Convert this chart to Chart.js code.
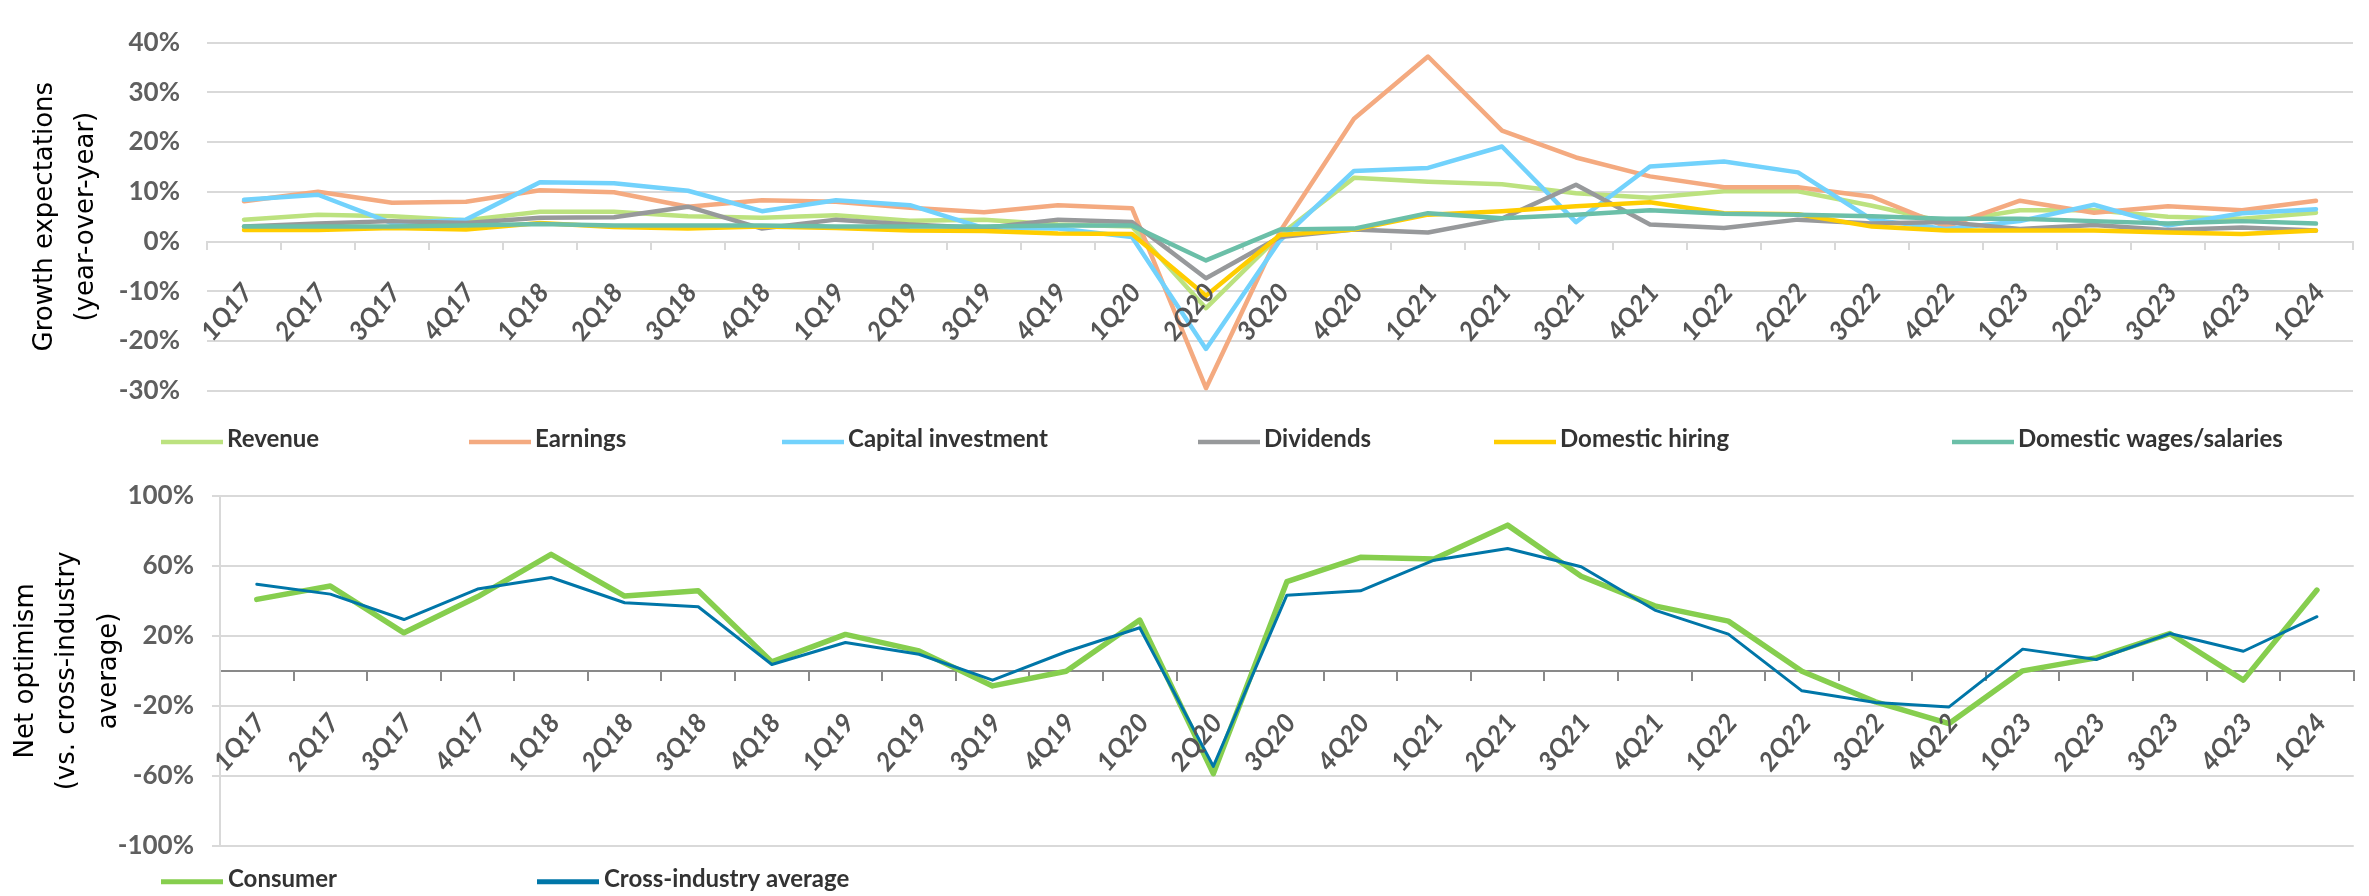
<!DOCTYPE html>
<html><head><meta charset="utf-8">
<script src="https://cdn.jsdelivr.net/npm/chart.js@4.4.1/dist/chart.umd.min.js"></script>
<style>
html,body{margin:0;padding:0;background:#fff;}
body{width:2369px;height:896px;position:relative;overflow:hidden;}
#c1{position:absolute;left:0;top:0;width:2369px;height:460px;}
#c2{position:absolute;left:0;top:460px;width:2369px;height:436px;}
</style></head><body>
<canvas id="c1" width="2369" height="460"></canvas>
<canvas id="c2" width="2369" height="436"></canvas>
<script>
// ---- Data ----
const categories = ['1Q17','2Q17','3Q17','4Q17','1Q18','2Q18','3Q18','4Q18','1Q19','2Q19','3Q19','4Q19','1Q20','2Q20','3Q20','4Q20','1Q21','2Q21','3Q21','4Q21','1Q22','2Q22','3Q22','4Q22','1Q23','2Q23','3Q23','4Q23','1Q24'];

const revenue   = [4.4, 5.4, 5.1, 4.3, 6.0, 6.0, 5.1, 4.8, 5.3, 4.2, 4.4, 3.4, 3.0, -13.4, 1.3, 12.8, 12.0, 11.5, 9.7, 8.8, 10.1, 10.1, 7.2, 3.9, 6.3, 6.3, 5.0, 4.6, 5.8];
const earnings  = [8.1, 10.0, 7.8, 8.0, 10.3, 9.9, 7.0, 8.3, 8.0, 6.8, 5.9, 7.3, 6.7, -29.5, 2.0, 24.7, 37.2, 22.3, 16.9, 13.1, 10.9, 10.9, 9.0, 3.0, 8.2, 5.8, 7.1, 6.3, 8.2];
const capex     = [8.4, 9.4, 3.7, 4.4, 11.9, 11.7, 10.2, 6.1, 8.3, 7.3, 2.7, 2.6, 0.9, -21.6, 0.2, 14.2, 14.8, 19.1, 3.9, 15.1, 16.1, 13.9, 4.4, 2.5, 4.1, 7.4, 3.2, 5.7, 6.5];
const dividends = [3.0, 3.6, 4.1, 3.7, 4.8, 4.9, 7.0, 2.6, 4.4, 3.4, 2.7, 4.4, 3.9, -7.4, 0.9, 2.4, 1.8, 4.6, 11.4, 3.4, 2.7, 4.4, 3.6, 3.9, 2.5, 3.3, 2.3, 2.8, 2.2];
const hiring    = [2.3, 2.3, 2.7, 2.4, 3.7, 2.9, 2.6, 3.0, 2.7, 2.2, 2.1, 1.6, 1.5, -10.9, 1.3, 2.4, 5.4, 6.1, 7.1, 7.9, 5.7, 5.5, 3.0, 2.2, 2.2, 2.2, 1.8, 1.5, 2.2];
const wages     = [3.0, 3.0, 3.0, 3.2, 3.5, 3.2, 3.2, 3.2, 3.0, 3.0, 3.0, 3.2, 3.2, -3.8, 2.4, 2.6, 5.7, 4.7, 5.4, 6.3, 5.6, 5.4, 5.1, 4.6, 4.6, 4.1, 3.6, 4.1, 3.6];

const consumer  = [40.8, 48.4, 21.7, 42.3, 66.5, 42.7, 45.7, 5.1, 20.8, 11.4, -8.6, -0.2, 29.0, -58.7, 50.9, 64.8, 63.8, 83.2, 54.0, 37.1, 28.4, -0.2, -17.7, -30.1, 0.0, 7.4, 21.3, -5.3, 46.1];
const crossInd  = [49.5, 43.8, 29.3, 46.7, 53.3, 38.9, 36.6, 3.6, 16.2, 9.5, -5.3, 10.9, 24.6, -54.5, 43.2, 45.7, 63.2, 69.9, 59.4, 34.7, 21.0, -11.4, -18.1, -20.6, 12.4, 6.5, 21.3, 11.2, 30.9];

const pctLabel = v => v + '%';
const topTitle = ['Growth expectations', '(year-over-year)'];
const bottomTitle = ['Net optimism', '(vs. cross-industry', 'average)'];

// ---- Styling ----
const topSeries = [
  {label: 'Revenue', data: revenue, color: '#BCE27F'},
  {label: 'Earnings', data: earnings, color: '#F4AA80'},
  {label: 'Capital investment', data: capex, color: '#72D2FC'},
  {label: 'Dividends', data: dividends, color: '#97999B'},
  {label: 'Domestic hiring', data: hiring, color: '#FFCD00'},
  {label: 'Domestic wages/salaries', data: wages, color: '#6BBFA8'}
];
const bottomSeries = [
  {label: 'Consumer', data: consumer, color: '#86CE4E', width: 5.5},
  {label: 'Cross-industry average', data: crossInd, color: '#0076A8', width: 3}
];

function legendPlugin(xs, yText, yLine, lineLen, gap, width) {
  return {
    id: 'customLegend',
    afterDraw(chart) {
      const ctx = chart.ctx;
      ctx.save();
      chart.data.datasets.forEach((ds, i) => {
        const x = xs[i];
        ctx.beginPath();
        ctx.strokeStyle = ds.borderColor;
        ctx.lineWidth = width;
        ctx.lineCap = 'butt';
        ctx.moveTo(x, yLine);
        ctx.lineTo(x + lineLen, yLine);
        ctx.stroke();
        ctx.font = 'bold 24px Lato, "Open Sans", sans-serif';
        ctx.fillStyle = '#333333';
        ctx.textBaseline = 'middle';
        ctx.textAlign = 'left';
        ctx.fillText(ds.label, x + lineLen + gap, yText);
      });
      ctx.restore();
    }
  };
}

const tickFont = {family: 'Lato, "Open Sans", sans-serif', weight: 'bold', size: 26};
const xTickFont = {family: 'Lato, "Open Sans", sans-serif', weight: 'bold', style: 'italic', size: 26};
const titleFontBase = {family: '"DejaVu Sans", Verdana, sans-serif', size: 26};

// ---- Top chart ----
new Chart(document.getElementById('c1'), {
  type: 'line',
  data: {
    labels: categories,
    datasets: topSeries.map((s, i) => ({
      label: s.label, data: s.data, borderColor: s.color, backgroundColor: s.color,
      borderWidth: 4.5, pointRadius: 0, pointHoverRadius: 0, tension: 0, fill: false,
      borderJoinStyle: 'round', borderCapStyle: 'round', order: topSeries.length - i
    }))
  },
  options: {
    responsive: false, animation: false, devicePixelRatio: 1,
    layout: {padding: {left: 0, right: 7, top: 21.7, bottom: 69.3}},
    plugins: {legend: {display: false}, tooltip: {enabled: false}},
    scales: {
      x: {
        type: 'category', position: {y: 0}, offset: true,
        grid: {display: true, drawOnChartArea: false, drawTicks: true, tickLength: 7, offset: true, color: '#D9D9D9', lineWidth: 2},
        border: {display: true, color: '#D9D9D9', width: 2},
        ticks: {autoSkip: false, minRotation: 50, maxRotation: 50, padding: 29, labelOffset: 4, color: '#555555', font: xTickFont, z: 1}
      },
      y: {
        min: -30, max: 40,
        ticks: {stepSize: 10, callback: pctLabel, padding: 27, color: '#5F5F5F', font: tickFont},
        grid: {color: '#D9D9D9', lineWidth: 2, drawTicks: false},
        border: {display: false},
        title: {display: true, text: topTitle, color: '#000000', font: Object.assign({lineHeight: 1.56}, titleFontBase), padding: {top: 25, bottom: 0}},
        afterFit: s => { s.width = 207; }
      }
    }
  },
  plugins: [legendPlugin([161, 469, 782, 1198, 1494, 1952], 439, 442, 62, 4, 4.5)]
});

// ---- Bottom chart ----
new Chart(document.getElementById('c2'), {
  type: 'line',
  data: {
    labels: categories,
    datasets: bottomSeries.map((s, i) => ({
      label: s.label, data: s.data, borderColor: s.color, backgroundColor: s.color,
      borderWidth: s.width, pointRadius: 0, pointHoverRadius: 0, tension: 0, fill: false,
      borderJoinStyle: 'round', borderCapStyle: 'round', order: bottomSeries.length - i
    }))
  },
  options: {
    responsive: false, animation: false, devicePixelRatio: 1,
    layout: {padding: {left: 0, right: 8, top: 35.7, bottom: 50}},
    plugins: {legend: {display: false}, tooltip: {enabled: false}},
    scales: {
      x: {
        type: 'category', position: {y: 0}, offset: true,
        grid: {display: true, drawOnChartArea: false, drawTicks: true, tickLength: 9, offset: true, color: '#898989', lineWidth: 2},
        border: {display: true, color: '#898989', width: 2},
        ticks: {autoSkip: false, minRotation: 50, maxRotation: 50, padding: 28, labelOffset: 4, color: '#555555', font: xTickFont, z: 1}
      },
      y: {
        min: -100, max: 100,
        ticks: {stepSize: 40, callback: pctLabel, padding: 18, color: '#5F5F5F', font: tickFont},
        grid: {color: '#D9D9D9', lineWidth: 2, drawTicks: true, tickLength: 8},
        border: {display: true, color: '#D9D9D9', width: 2},
        title: {display: true, text: bottomTitle, color: '#000000', font: Object.assign({lineHeight: 1.6}, titleFontBase), padding: {top: 5, bottom: 0}},
        afterFit: s => { s.width = 220; }
      }
    }
  },
  plugins: [legendPlugin([161, 537], 419, 421.7, 62, 5, 5)]
});
</script>
</body></html>
